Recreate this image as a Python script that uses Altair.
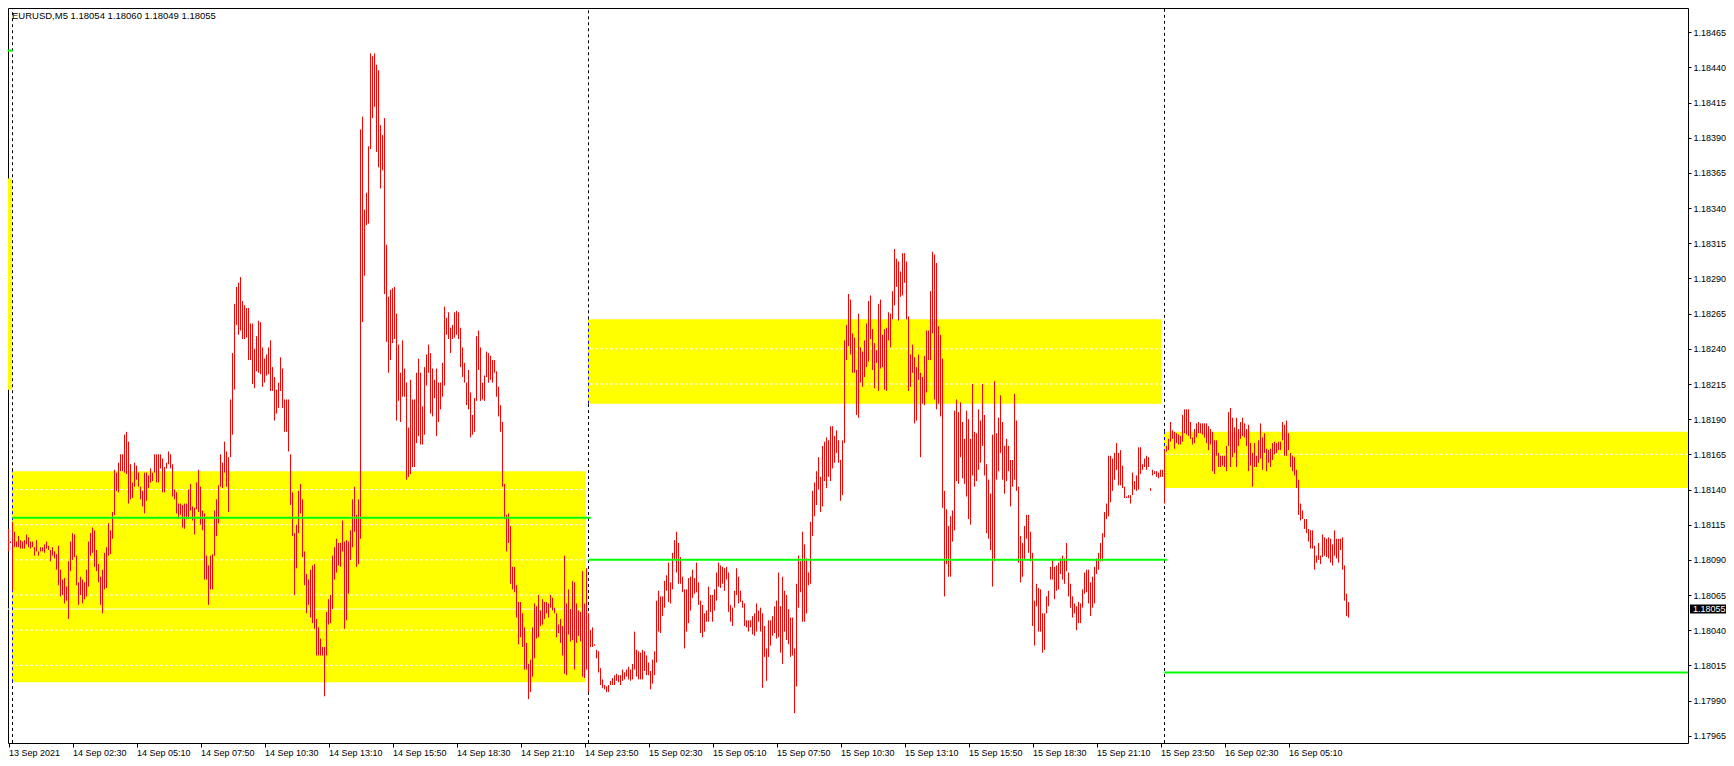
import altair as alt
import pandas as pd

# ---- M5 bar highs / lows (EURUSD), one value per bar ----
HIGHS = [
 1.18112, 1.18103, 1.18117, 1.18110, 1.18103, 1.18107, 1.18104, 1.18103, 1.18104, 1.18108,
 1.18106, 1.18103, 1.18103, 1.18099, 1.18104, 1.18096, 1.18099, 1.18099, 1.18101, 1.18103,
 1.18100, 1.18097, 1.18099, 1.18096, 1.18094, 1.18100, 1.18083, 1.18076, 1.18077, 1.18071,
 1.18089, 1.18103, 1.18109, 1.18108, 1.18093, 1.18074, 1.18078, 1.18076, 1.18074, 1.18083,
 1.18103, 1.18109, 1.18113, 1.18111, 1.18097, 1.18087, 1.18078, 1.18083, 1.18095, 1.18099,
 1.18116, 1.18111, 1.18124, 1.18154, 1.18152, 1.18159, 1.18165, 1.18165, 1.18179, 1.18181,
 1.18174, 1.18158, 1.18145, 1.18159, 1.18157, 1.18152, 1.18142, 1.18139, 1.18152, 1.18152,
 1.18150, 1.18155, 1.18152, 1.18165, 1.18165, 1.18165, 1.18165, 1.18162, 1.18156, 1.18159,
 1.18167, 1.18165, 1.18158, 1.18140, 1.18138, 1.18130, 1.18130, 1.18129, 1.18130, 1.18130,
 1.18140, 1.18144, 1.18128, 1.18127, 1.18145, 1.18154, 1.18142, 1.18125, 1.18123, 1.18093,
 1.18086, 1.18093, 1.18094, 1.18125, 1.18133, 1.18143, 1.18165, 1.18159, 1.18174, 1.18167,
 1.18163, 1.18204, 1.18237, 1.18272, 1.18284, 1.18287, 1.18291, 1.18274, 1.18271, 1.18269,
 1.18269, 1.18258, 1.18258, 1.18240, 1.18249, 1.18260, 1.18259, 1.18241, 1.18233, 1.18236,
 1.18241, 1.18246, 1.18227, 1.18220, 1.18211, 1.18216, 1.18234, 1.18226, 1.18204, 1.18204,
 1.18204, 1.18165, 1.18138, 1.18109, 1.18115, 1.18139, 1.18144, 1.18133, 1.18096, 1.18080,
 1.18076, 1.18083, 1.18086, 1.18087, 1.18048, 1.18042, 1.18034, 1.18028, 1.18028, 1.18053,
 1.18062, 1.18065, 1.18093, 1.18099, 1.18105, 1.18102, 1.18102, 1.18118, 1.18103, 1.18104,
 1.18103, 1.18111, 1.18133, 1.18142, 1.18122, 1.18133, 1.18396, 1.18405, 1.18339, 1.18351,
 1.18384, 1.18450, 1.18448, 1.18450, 1.18442, 1.18438, 1.18399, 1.18392, 1.18404, 1.18314,
 1.18277, 1.18282, 1.18283, 1.18284, 1.18265, 1.18243, 1.18223, 1.18246, 1.18226, 1.18216,
 1.18184, 1.18218, 1.18204, 1.18204, 1.18223, 1.18233, 1.18223, 1.18199, 1.18227, 1.18236,
 1.18243, 1.18237, 1.18226, 1.18218, 1.18226, 1.18216, 1.18216, 1.18230, 1.18270, 1.18262,
 1.18266, 1.18255, 1.18257, 1.18266, 1.18267, 1.18266, 1.18255, 1.18241, 1.18230, 1.18216,
 1.18225, 1.18209, 1.18193, 1.18205, 1.18249, 1.18253, 1.18241, 1.18216, 1.18221, 1.18238,
 1.18237, 1.18235, 1.18232, 1.18232, 1.18224, 1.18213, 1.18200, 1.18188, 1.18144, 1.18122,
 1.18123, 1.18114, 1.18085, 1.18085, 1.18072, 1.18060, 1.18060, 1.18052, 1.18042, 1.18031,
 1.18016, 1.18019, 1.18042, 1.18059, 1.18057, 1.18065, 1.18054, 1.18062, 1.18060, 1.18060,
 1.18059, 1.18065, 1.18063, 1.18056, 1.18052, 1.18044, 1.18048, 1.18043, 1.18093, 1.18059,
 1.18069, 1.18055, 1.18075, 1.18074, 1.18059, 1.18054, 1.18053, 1.18082, 1.18059, 1.18084,
 1.18052, 1.18040, 1.18042, 1.18030, 1.18026, 1.18025, 1.18013, 1.18005, 1.18001, 1.18000,
 1.18001, 1.18004, 1.18006, 1.18008, 1.18009, 1.18008, 1.18008, 1.18012, 1.18010, 1.18012,
 1.18014, 1.18012, 1.18016, 1.18039, 1.18026, 1.18025, 1.18024, 1.18026, 1.18025, 1.18022,
 1.18017, 1.18011, 1.18019, 1.18025, 1.18061, 1.18068, 1.18064, 1.18064, 1.18075, 1.18079,
 1.18088, 1.18074, 1.18095, 1.18104, 1.18110, 1.18102, 1.18092, 1.18078, 1.18069, 1.18069,
 1.18077, 1.18078, 1.18083, 1.18077, 1.18088, 1.18074, 1.18061, 1.18058, 1.18052, 1.18054,
 1.18071, 1.18065, 1.18065, 1.18069, 1.18081, 1.18088, 1.18086, 1.18085, 1.18084, 1.18085,
 1.18081, 1.18058, 1.18056, 1.18068, 1.18084, 1.18078, 1.18068, 1.18061, 1.18059, 1.18047,
 1.18047, 1.18047, 1.18050, 1.18052, 1.18059, 1.18054, 1.18056, 1.18052, 1.18043, 1.18027,
 1.18047, 1.18047, 1.18050, 1.18057, 1.18061, 1.18081, 1.18057, 1.18078, 1.18068, 1.18065,
 1.18055, 1.18049, 1.18049, 1.18027, 1.18073, 1.18093, 1.18089, 1.18110, 1.18101, 1.18091,
 1.18081, 1.18117, 1.18139, 1.18145, 1.18153, 1.18163, 1.18149, 1.18171, 1.18174, 1.18177,
 1.18175, 1.18185, 1.18185, 1.18178, 1.18182, 1.18175, 1.18161, 1.18175, 1.18246, 1.18257,
 1.18279, 1.18275, 1.18251, 1.18248, 1.18225, 1.18265, 1.18241, 1.18238, 1.18246, 1.18258,
 1.18274, 1.18278, 1.18254, 1.18244, 1.18239, 1.18272, 1.18275, 1.18250, 1.18254, 1.18255,
 1.18266, 1.18265, 1.18281, 1.18311, 1.18304, 1.18302, 1.18295, 1.18308, 1.18308, 1.18302,
 1.18263, 1.18236, 1.18243, 1.18234, 1.18227, 1.18236, 1.18223, 1.18220, 1.18235, 1.18253,
 1.18253, 1.18281, 1.18309, 1.18307, 1.18301, 1.18256, 1.18250, 1.18233, 1.18139, 1.18126,
 1.18114, 1.18121, 1.18125, 1.18196, 1.18204, 1.18195, 1.18202, 1.18188, 1.18176, 1.18196,
 1.18190, 1.18176, 1.18215, 1.18181, 1.18180, 1.18197, 1.18189, 1.18215, 1.18193, 1.18158,
 1.18147, 1.18137, 1.18179, 1.18217, 1.18180, 1.18191, 1.18207, 1.18188, 1.18171, 1.18176,
 1.18171, 1.18161, 1.18161, 1.18208, 1.18189, 1.18142, 1.18107, 1.18102, 1.18114, 1.18122,
 1.18122, 1.18110, 1.18095, 1.18061, 1.18073, 1.18070, 1.18069, 1.18052, 1.18052, 1.18064,
 1.18068, 1.18085, 1.18090, 1.18085, 1.18086, 1.18088, 1.18091, 1.18093, 1.18091, 1.18102,
 1.18081, 1.18073, 1.18064, 1.18059, 1.18057, 1.18060, 1.18059, 1.18069, 1.18081, 1.18083,
 1.18083, 1.18074, 1.18078, 1.18085, 1.18091, 1.18095, 1.18102, 1.18109, 1.18124, 1.18130,
 1.18164, 1.18164, 1.18162, 1.18166, 1.18173, 1.18166, 1.18168, 1.18157, 1.18142, 1.18135,
 1.18136, 1.18136, 1.18152, 1.18146, 1.18150, 1.18170, 1.18170, 1.18158, 1.18162, 1.18164,
 1.18163, 1.18141, 1.18154, 1.18153, 1.18153, 1.18152, 1.18154, 1.18154, 1.18168, 1.18171,
 1.18176, 1.18188, 1.18182, 1.18181, 1.18180, 1.18179, 1.18178, 1.18193, 1.18197, 1.18197,
 1.18197, 1.18188, 1.18177, 1.18183, 1.18187, 1.18188, 1.18187, 1.18187, 1.18187, 1.18187,
 1.18185, 1.18183, 1.18181, 1.18175, 1.18175, 1.18166, 1.18164, 1.18164, 1.18164, 1.18171,
 1.18195, 1.18198, 1.18191, 1.18184, 1.18191, 1.18183, 1.18188, 1.18191, 1.18187, 1.18183,
 1.18186, 1.18173, 1.18166, 1.18173, 1.18164, 1.18175, 1.18187, 1.18177, 1.18180, 1.18169,
 1.18168, 1.18169, 1.18173, 1.18174, 1.18173, 1.18174, 1.18174, 1.18188, 1.18186, 1.18189,
 1.18180, 1.18166, 1.18164, 1.18163, 1.18154, 1.18147, 1.18130, 1.18125, 1.18119, 1.18119,
 1.18112, 1.18111, 1.18111, 1.18100, 1.18093, 1.18102, 1.18093, 1.18108, 1.18106, 1.18105,
 1.18106, 1.18105, 1.18101, 1.18111, 1.18105, 1.18105, 1.18105, 1.18106, 1.18086, 1.18066,
 1.18060,
]

LOWS = [
 1.18096, 1.18102, 1.18068, 1.18099, 1.18099, 1.18099, 1.18098, 1.18098, 1.18098, 1.18101,
 1.18099, 1.18098, 1.18099, 1.18093, 1.18096, 1.18093, 1.18096, 1.18096, 1.18095, 1.18098,
 1.18097, 1.18089, 1.18093, 1.18091, 1.18083, 1.18072, 1.18064, 1.18065, 1.18059, 1.18061,
 1.18048, 1.18082, 1.18090, 1.18092, 1.18072, 1.18058, 1.18065, 1.18059, 1.18062, 1.18064,
 1.18071, 1.18093, 1.18095, 1.18085, 1.18082, 1.18074, 1.18058, 1.18052, 1.18069, 1.18070,
 1.18093, 1.18094, 1.18105, 1.18122, 1.18139, 1.18138, 1.18153, 1.18153, 1.18152, 1.18151,
 1.18130, 1.18133, 1.18134, 1.18142, 1.18147, 1.18142, 1.18133, 1.18128, 1.18123, 1.18132,
 1.18141, 1.18145, 1.18146, 1.18152, 1.18145, 1.18145, 1.18155, 1.18138, 1.18138, 1.18155,
 1.18158, 1.18155, 1.18135, 1.18133, 1.18123, 1.18119, 1.18122, 1.18113, 1.18112, 1.18119,
 1.18119, 1.18125, 1.18118, 1.18108, 1.18126, 1.18124, 1.18115, 1.18111, 1.18076, 1.18076,
 1.18058, 1.18069, 1.18069, 1.18093, 1.18107, 1.18116, 1.18142, 1.18141, 1.18152, 1.18142,
 1.18124, 1.18163, 1.18179, 1.18211, 1.18257, 1.18250, 1.18253, 1.18247, 1.18247, 1.18248,
 1.18232, 1.18232, 1.18215, 1.18212, 1.18224, 1.18223, 1.18222, 1.18213, 1.18216, 1.18221,
 1.18222, 1.18210, 1.18210, 1.18189, 1.18194, 1.18198, 1.18210, 1.18198, 1.18181, 1.18181,
 1.18167, 1.18129, 1.18107, 1.18065, 1.18084, 1.18109, 1.18123, 1.18092, 1.18072, 1.18052,
 1.18058, 1.18049, 1.18045, 1.18041, 1.18022, 1.18022, 1.18022, 1.18022, 1.17993, 1.18022,
 1.18044, 1.18045, 1.18055, 1.18076, 1.18081, 1.18086, 1.18085, 1.18096, 1.18041, 1.18047,
 1.18066, 1.18090, 1.18099, 1.18110, 1.18085, 1.18087, 1.18105, 1.18259, 1.18292, 1.18328,
 1.18329, 1.18382, 1.18404, 1.18412, 1.18380, 1.18369, 1.18354, 1.18367, 1.18279, 1.18245,
 1.18223, 1.18232, 1.18244, 1.18247, 1.18189, 1.18203, 1.18188, 1.18206, 1.18206, 1.18147,
 1.18149, 1.18151, 1.18156, 1.18156, 1.18173, 1.18178, 1.18172, 1.18172, 1.18179, 1.18214,
 1.18223, 1.18194, 1.18192, 1.18205, 1.18178, 1.18188, 1.18197, 1.18206, 1.18214, 1.18250,
 1.18247, 1.18237, 1.18247, 1.18248, 1.18250, 1.18247, 1.18227, 1.18220, 1.18216, 1.18200,
 1.18197, 1.18177, 1.18179, 1.18181, 1.18203, 1.18225, 1.18203, 1.18204, 1.18203, 1.18220,
 1.18216, 1.18218, 1.18216, 1.18223, 1.18206, 1.18192, 1.18181, 1.18142, 1.18119, 1.18096,
 1.18102, 1.18073, 1.18069, 1.18067, 1.18049, 1.18030, 1.18035, 1.18028, 1.18012, 1.18012,
 1.17991, 1.17996, 1.18007, 1.18020, 1.18034, 1.18035, 1.18043, 1.18044, 1.18048, 1.18052,
 1.18049, 1.18056, 1.18054, 1.18052, 1.18035, 1.18038, 1.18031, 1.18022, 1.18009, 1.18008,
 1.18037, 1.18032, 1.18033, 1.18012, 1.18031, 1.18036, 1.18032, 1.18007, 1.18006, 1.18012,
 1.17996, 1.18028, 1.18028, 1.18029, 1.18020, 1.18010, 1.18001, 1.17999, 1.17998, 1.17996,
 1.17996, 1.18001, 1.18001, 1.18001, 1.18004, 1.18003, 1.18001, 1.18004, 1.18005, 1.18007,
 1.18005, 1.18004, 1.18005, 1.18012, 1.18007, 1.18005, 1.18005, 1.18005, 1.18011, 1.18008,
 1.18008, 1.17998, 1.18002, 1.18008, 1.18017, 1.18039, 1.18038, 1.18050, 1.18056, 1.18068,
 1.18060, 1.18059, 1.18069, 1.18090, 1.18081, 1.18073, 1.18073, 1.18067, 1.18027, 1.18039,
 1.18045, 1.18054, 1.18063, 1.18066, 1.18067, 1.18058, 1.18038, 1.18035, 1.18039, 1.18046,
 1.18046, 1.18053, 1.18046, 1.18054, 1.18061, 1.18071, 1.18070, 1.18073, 1.18068, 1.18076,
 1.18053, 1.18046, 1.18043, 1.18056, 1.18065, 1.18059, 1.18060, 1.18056, 1.18043, 1.18042,
 1.18039, 1.18042, 1.18037, 1.18036, 1.18039, 1.18046, 1.18039, 1.17999, 1.18021, 1.18004,
 1.18021, 1.18029, 1.18036, 1.18038, 1.18034, 1.18035, 1.18024, 1.18016, 1.18039, 1.18033,
 1.18030, 1.18021, 1.18022, 1.17981, 1.18000, 1.18056, 1.18067, 1.18046, 1.18046, 1.18052,
 1.18072, 1.18073, 1.18107, 1.18121, 1.18129, 1.18140, 1.18124, 1.18128, 1.18146, 1.18141,
 1.18149, 1.18146, 1.18155, 1.18159, 1.18166, 1.18159, 1.18132, 1.18136, 1.18173, 1.18232,
 1.18242, 1.18236, 1.18223, 1.18223, 1.18193, 1.18191, 1.18216, 1.18213, 1.18220, 1.18227,
 1.18231, 1.18247, 1.18225, 1.18212, 1.18230, 1.18210, 1.18226, 1.18227, 1.18211, 1.18210,
 1.18246, 1.18241, 1.18261, 1.18271, 1.18284, 1.18260, 1.18277, 1.18278, 1.18287, 1.18261,
 1.18210, 1.18213, 1.18223, 1.18187, 1.18189, 1.18218, 1.18163, 1.18201, 1.18200, 1.18209,
 1.18232, 1.18232, 1.18251, 1.18204, 1.18197, 1.18201, 1.18192, 1.18127, 1.18064, 1.18087,
 1.18078, 1.18078, 1.18103, 1.18111, 1.18146, 1.18144, 1.18163, 1.18148, 1.18144, 1.18135,
 1.18119, 1.18115, 1.18150, 1.18142, 1.18146, 1.18154, 1.18159, 1.18171, 1.18150, 1.18109,
 1.18105, 1.18097, 1.18071, 1.18089, 1.18147, 1.18153, 1.18166, 1.18147, 1.18137, 1.18146,
 1.18153, 1.18128, 1.18142, 1.18147, 1.18139, 1.18088, 1.18074, 1.18078, 1.18090, 1.18105,
 1.18095, 1.18089, 1.18043, 1.18029, 1.18057, 1.18039, 1.18039, 1.18024, 1.18026, 1.18052,
 1.18057, 1.18076, 1.18076, 1.18062, 1.18068, 1.18069, 1.18080, 1.18076, 1.18073, 1.18082,
 1.18064, 1.18056, 1.18049, 1.18052, 1.18040, 1.18045, 1.18045, 1.18056, 1.18066, 1.18067,
 1.18059, 1.18050, 1.18056, 1.18059, 1.18080, 1.18083, 1.18089, 1.18089, 1.18106, 1.18119,
 1.18121, 1.18131, 1.18139, 1.18147, 1.18154, 1.18143, 1.18143, 1.18141, 1.18134, 1.18134,
 1.18134, 1.18130, 1.18136, 1.18140, 1.18139, 1.18140, 1.18151, 1.18154, 1.18156, 1.18154,
 1.18156, 1.18139, 1.18150, 1.18151, 1.18149, 1.18148, 1.18149, 1.18149, 1.18130, 1.18167,
 1.18168, 1.18174, 1.18176, 1.18169, 1.18173, 1.18172, 1.18172, 1.18174, 1.18180, 1.18179,
 1.18178, 1.18176, 1.18172, 1.18173, 1.18177, 1.18180, 1.18180, 1.18179, 1.18177, 1.18173,
 1.18168, 1.18172, 1.18153, 1.18151, 1.18164, 1.18156, 1.18156, 1.18157, 1.18156, 1.18153,
 1.18171, 1.18156, 1.18163, 1.18166, 1.18156, 1.18171, 1.18176, 1.18178, 1.18177, 1.18171,
 1.18153, 1.18157, 1.18142, 1.18156, 1.18156, 1.18159, 1.18162, 1.18154, 1.18166, 1.18153,
 1.18159, 1.18156, 1.18161, 1.18165, 1.18166, 1.18168, 1.18168, 1.18175, 1.18164, 1.18164,
 1.18168, 1.18156, 1.18153, 1.18150, 1.18141, 1.18122, 1.18118, 1.18119, 1.18112, 1.18109,
 1.18103, 1.18098, 1.18098, 1.18083, 1.18088, 1.18090, 1.18087, 1.18092, 1.18093, 1.18092,
 1.18091, 1.18088, 1.18086, 1.18093, 1.18091, 1.18088, 1.18097, 1.18083, 1.18061, 1.18050,
 1.18049,
]

# ---- axes ----
X_TICK_BARS = [0, 32, 64, 96, 128, 160, 192, 224, 256, 288, 320, 352, 384, 416, 448,
               480, 512, 544, 576, 608, 640]
X_TICK_LABELS = ["13 Sep 2021", "14 Sep 02:30", "14 Sep 05:10", "14 Sep 07:50",
                 "14 Sep 10:30", "14 Sep 13:10", "14 Sep 15:50", "14 Sep 18:30",
                 "14 Sep 21:10", "14 Sep 23:50", "15 Sep 02:30", "15 Sep 05:10",
                 "15 Sep 07:50", "15 Sep 10:30", "15 Sep 13:10", "15 Sep 15:50",
                 "15 Sep 18:30", "15 Sep 21:10", "15 Sep 23:50", "16 Sep 02:30",
                 "16 Sep 05:10"]
Y_TICKS = [1.17965, 1.17990, 1.18015, 1.18040, 1.18065, 1.18090, 1.18115, 1.18140,
           1.18165, 1.18190, 1.18215, 1.18240, 1.18265, 1.18290, 1.18315, 1.18340,
           1.18365, 1.18390, 1.18415, 1.18440, 1.18465]
X_DOMAIN = [-0.25, 839.75]
Y_DOMAIN = [1.1795981, 1.1848228]

# ---- daily zones (yellow), daily levels (green), day separators ----
ZONE_START = [-1.0, 1.75, 289.75, 577.75]
ZONE_END = [1.75, 288.6, 576.6, 841.0]
ZONE_LOW = [1.18211, 1.18003, 1.18201, 1.18141]
ZONE_HIGH = [1.18361, 1.18153, 1.18261, 1.18181]

LEVEL_START = [-1.0, 1.9, 289.9, 577.9]
LEVEL_END = [2.1, 291.1, 579.1, 841.0]
LEVEL_PRICE = [1.18452, 1.18120, 1.18090, 1.18010]

SEPARATORS = [2, 290, 578]
SEP_ZONE_LOW = [1.18003, 1.18201, 1.18141]
SEP_ZONE_HIGH = [1.18153, 1.18261, 1.18181]

BID = 1.18055
TITLE = "EURUSD,M5  1.18054 1.18060 1.18049 1.18055"

FONT = "Liberation Sans"
FS = 9

n = min(len(HIGHS), len(LOWS))
bars = pd.DataFrame({"bar": list(range(n)), "high": HIGHS[:n], "low": LOWS[:n]})
zones = pd.DataFrame({"s": ZONE_START, "e": ZONE_END, "lo": ZONE_LOW, "hi": ZONE_HIGH})
levels = pd.DataFrame({"s": LEVEL_START, "e": LEVEL_END, "p": LEVEL_PRICE})
grid = pd.DataFrame({"p": Y_TICKS})

seg_rows = []
for b, lo, hi in zip(SEPARATORS, SEP_ZONE_LOW, SEP_ZONE_HIGH):
    seg_rows.append({"bar": b, "y1": hi, "y2": Y_DOMAIN[1], "c": "black"})
    seg_rows.append({"bar": b, "y1": lo, "y2": hi, "c": "blue"})
    seg_rows.append({"bar": b, "y1": Y_DOMAIN[0], "y2": lo, "c": "black"})
segs = pd.DataFrame(seg_rows)

xscale = alt.Scale(domain=X_DOMAIN, nice=False, zero=False)
yscale = alt.Scale(domain=Y_DOMAIN, nice=False, zero=False)

label_expr = ("[" + ",".join("'%s'" % s for s in X_TICK_LABELS) + "]"
              "[indexof([" + ",".join(str(v) for v in X_TICK_BARS) + "], datum.value)]")

x_axis = alt.Axis(values=X_TICK_BARS, labelExpr=label_expr, tickSize=4, tickColor="black",
                  labelAlign="left", labelBaseline="top", labelPadding=1,
                  labelFlush=False, labelOverlap=False, domain=False, grid=False,
                  title=None, labelFont=FONT, labelFontSize=FS, labelColor="black")
y_axis = alt.Axis(orient="right", values=Y_TICKS, format=".5f", tickSize=3,
                  tickColor="black", labelPadding=2, labelFlush=False,
                  labelOverlap=False, domain=False, grid=False, title=None,
                  labelFont=FONT, labelFontSize=FS, labelColor="black")


def X(field):
    return alt.X(field, scale=xscale, axis=x_axis)


def Y(field):
    return alt.Y(field, scale=yscale, axis=y_axis)


zone_layer = alt.Chart(zones).mark_rect(color="#FFFF00", clip=True).encode(
    x=X("s:Q"), x2="e:Q", y=Y("lo:Q"), y2="hi:Q",
)

grid_layer = alt.Chart(grid).mark_rule(color="white", strokeDash=[3, 2], strokeWidth=1).encode(
    y=Y("p:Q")
)

bid_line = alt.Chart(pd.DataFrame({"p": [BID]})).mark_rule(color="white", strokeWidth=1).encode(
    y=Y("p:Q")
)

sep_layer = alt.Chart(segs).mark_rule(strokeDash=[3, 3], strokeWidth=1).encode(
    x=X("bar:Q"), y=Y("y1:Q"), y2="y2:Q",
    color=alt.Color("c:N", scale=None, legend=None),
)

bar_layer = alt.Chart(bars).mark_rule(color="#FF0000", strokeWidth=1).encode(
    x=X("bar:Q"), y=Y("low:Q"), y2="high:Q",
)

level_layer = alt.Chart(levels).mark_rule(color="#00FF00", strokeWidth=2, clip=True).encode(
    x=X("s:Q"), x2="e:Q", y=Y("p:Q"),
)

title_layer = alt.Chart(pd.DataFrame({"t": [TITLE]})).mark_text(
    align="left", baseline="middle", font=FONT, fontSize=9.5, color="black"
).encode(x=alt.value(4), y=alt.value(8), text="t:N")

bid_box = alt.Chart(pd.DataFrame({"p": [BID]})).mark_rule(color="black", strokeWidth=9).encode(
    x=alt.value(1682), x2=alt.value(1723), y=Y("p:Q")
)
bid_text = alt.Chart(pd.DataFrame({"p": [BID], "t": ["%.5f" % BID]})).mark_text(
    align="left", baseline="middle", font=FONT, fontSize=FS, color="white"
).encode(x=alt.value(1685), y=Y("p:Q"), text="t:N")

chart = alt.layer(
    zone_layer, grid_layer, bid_line, sep_layer, bar_layer, level_layer,
    title_layer, bid_box, bid_text,
).properties(
    width=1680, height=735,
    padding={"left": 0, "top": 0, "right": 38, "bottom": 15},
    autosize=alt.AutoSizeParams(type="none"),
    background="white",
).configure_view(stroke="black", strokeWidth=1)

chart.save("out.html", embed_options={"renderer": "svg", "actions": False})
